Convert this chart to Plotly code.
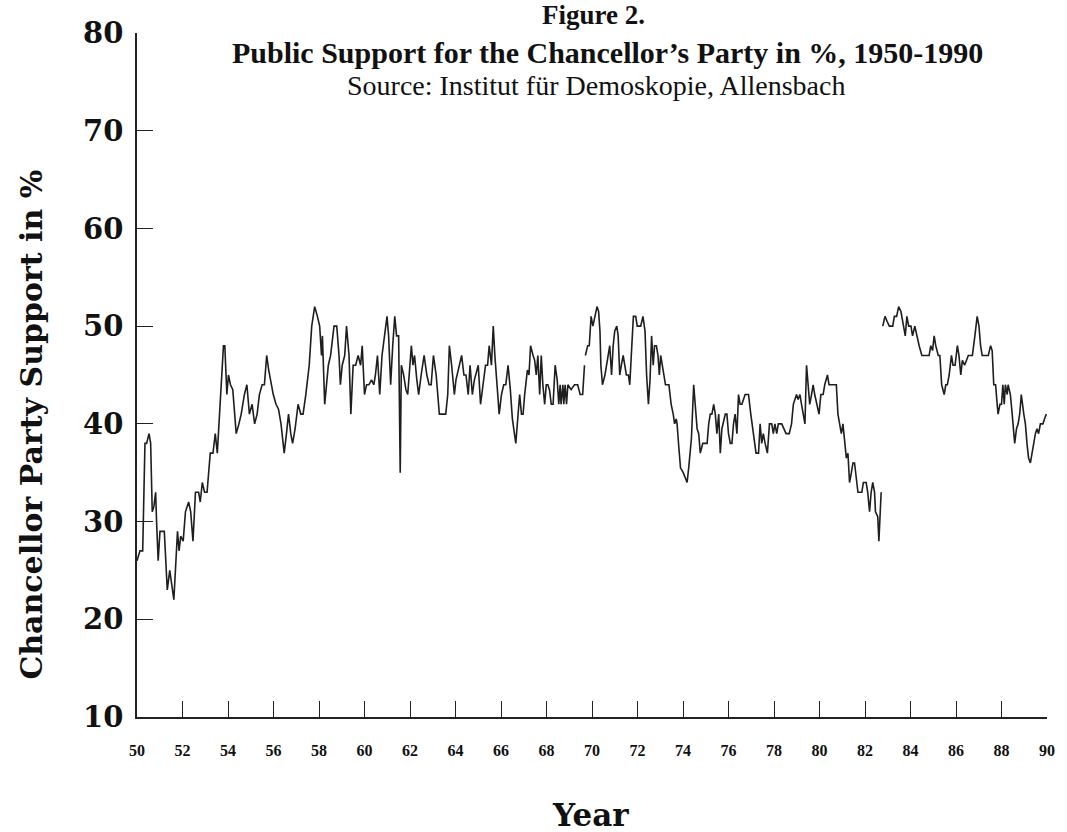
import plotly.graph_objects as go

# Public support for the chancellor's party (%), Allensbach polls.
# Three segments: CDU/CSU chancellors (1950-1969), SPD chancellors (1969-1982),
# CDU/CSU again after October 1982.
cdu1_years = [
    1950.00, 1950.13, 1950.25, 1950.35, 1950.42, 1950.53, 1950.60, 1950.67, 1950.74, 1950.82,
    1950.86, 1950.93, 1951.01, 1951.20, 1951.33, 1951.44, 1951.62, 1951.78, 1951.85, 1951.92,
    1952.03, 1952.13, 1952.27, 1952.36, 1952.46, 1952.57, 1952.71, 1952.78, 1952.87, 1952.97,
    1953.08, 1953.22, 1953.34, 1953.44, 1953.53, 1953.63, 1953.80, 1953.86, 1953.95, 1954.02,
    1954.11, 1954.21, 1954.36, 1954.48, 1954.58, 1954.72, 1954.83, 1954.94, 1955.06, 1955.17,
    1955.28, 1955.38, 1955.50, 1955.60, 1955.70, 1955.79, 1955.89, 1955.99, 1956.11, 1956.22,
    1956.33, 1956.47, 1956.57, 1956.66, 1956.76, 1956.84, 1956.95, 1957.08, 1957.20, 1957.30,
    1957.42, 1957.57, 1957.68, 1957.81, 1957.93, 1958.03, 1958.11, 1958.15, 1958.25, 1958.41,
    1958.51, 1958.66, 1958.78, 1958.88, 1958.94, 1959.02, 1959.13, 1959.21, 1959.32, 1959.40,
    1959.50, 1959.61, 1959.72, 1959.83, 1959.90, 1960.00, 1960.09, 1960.19, 1960.31, 1960.41,
    1960.48, 1960.57, 1960.67, 1960.77, 1960.88, 1960.99, 1961.06, 1961.15, 1961.24, 1961.33,
    1961.41, 1961.50, 1961.57, 1961.62, 1961.72, 1961.82, 1961.90, 1961.98, 1962.06, 1962.13,
    1962.20, 1962.30, 1962.38, 1962.49, 1962.62, 1962.74, 1962.84, 1962.93, 1963.03, 1963.15,
    1963.29, 1963.43, 1963.57, 1963.66, 1963.73, 1963.83, 1963.95, 1964.02, 1964.10, 1964.17,
    1964.27, 1964.37, 1964.46, 1964.56, 1964.64, 1964.74, 1964.83, 1964.93, 1965.00, 1965.10,
    1965.22, 1965.32, 1965.41, 1965.48, 1965.58, 1965.66, 1965.73, 1965.83, 1965.92, 1966.02,
    1966.12, 1966.21, 1966.31, 1966.41, 1966.50, 1966.65, 1966.75, 1966.82, 1966.90, 1966.97,
    1967.04, 1967.16, 1967.23, 1967.30, 1967.41, 1967.48, 1967.55, 1967.62, 1967.70, 1967.77,
    1967.84, 1967.92, 1967.99, 1968.06, 1968.13, 1968.21, 1968.29, 1968.38, 1968.47, 1968.54,
    1968.60, 1968.64, 1968.72, 1968.76, 1968.82, 1968.88, 1968.94, 1969.08, 1969.23, 1969.37,
    1969.48, 1969.59, 1969.67,
]
cdu1_support = [
    26, 27, 27, 38, 38, 39, 38, 31, 31.5, 33,
    30, 26, 29, 29, 23, 25, 22, 29, 27, 28.5,
    28, 31, 32, 31, 28, 33, 33, 32, 34, 33,
    33, 37, 37, 39, 37, 41, 48, 48, 43, 45,
    44, 43.5, 39, 40, 41, 43, 44, 41, 42, 40,
    41, 43, 44, 44, 47, 45.5, 44, 43, 42, 41.5,
    40, 37, 39, 41, 39, 38, 39.5, 42, 41, 41,
    43, 46, 50, 52, 51, 50, 47, 49, 42, 46,
    47, 50, 50, 47, 44, 46, 47, 50, 47, 41,
    46, 46, 47, 46, 48, 43, 44, 44, 44.5, 44,
    45, 47, 43, 47, 49, 51, 49, 44, 48, 51,
    49, 49, 35, 46, 45, 43.5, 43, 46, 48, 46,
    47, 44.5, 43, 45, 47, 45, 44, 44, 47, 45,
    41, 41, 41, 43, 48, 46, 43, 44.5, 45.5, 46,
    47, 45, 45, 43, 46, 43, 44.5, 45.5, 46, 42,
    44, 46, 46, 48, 46, 50, 47, 44, 41, 43,
    44, 44, 46, 43.5, 40.5, 38, 41, 43, 41, 41,
    43, 45.5, 45, 48, 47, 46.5, 45, 47, 43, 47,
    44, 42, 44, 44, 43.5, 42, 42, 46, 44.5, 42,
    44, 42, 44, 42, 44, 42, 44, 43.5, 44, 44,
    43, 43, 46,
]

spd_years = [
    1969.71, 1969.81, 1969.88, 1969.96, 1970.04, 1970.13, 1970.22, 1970.29, 1970.35, 1970.39,
    1970.46, 1970.57, 1970.68, 1970.78, 1970.86, 1970.93, 1971.00, 1971.09, 1971.15, 1971.22,
    1971.29, 1971.37, 1971.44, 1971.51, 1971.60, 1971.66, 1971.75, 1971.82, 1971.92, 1971.99,
    1972.14, 1972.24, 1972.33, 1972.40, 1972.48, 1972.55, 1972.62, 1972.69, 1972.75, 1972.83,
    1972.90, 1972.96, 1973.02, 1973.09, 1973.16, 1973.23, 1973.38, 1973.48, 1973.57, 1973.63,
    1973.70, 1973.74, 1973.82, 1973.89, 1974.01, 1974.11, 1974.18, 1974.25, 1974.37, 1974.47,
    1974.55, 1974.62, 1974.69, 1974.76, 1974.87, 1974.94, 1975.06, 1975.13, 1975.20, 1975.27,
    1975.35, 1975.42, 1975.49, 1975.57, 1975.64, 1975.71, 1975.86, 1975.93, 1976.00, 1976.08,
    1976.15, 1976.22, 1976.29, 1976.37, 1976.44, 1976.51, 1976.59, 1976.73, 1976.88, 1976.98,
    1977.10, 1977.21, 1977.32, 1977.39, 1977.46, 1977.53, 1977.61, 1977.71, 1977.80, 1977.90,
    1977.97, 1978.04, 1978.12, 1978.19, 1978.34, 1978.44, 1978.53, 1978.67, 1978.77, 1978.85,
    1978.92, 1978.99, 1979.06, 1979.14, 1979.21, 1979.28, 1979.36, 1979.43, 1979.50, 1979.57,
    1979.65, 1979.72, 1979.79, 1979.87, 1979.98, 1980.06, 1980.16, 1980.23, 1980.35, 1980.42,
    1980.52, 1980.74, 1980.81, 1980.89, 1980.96, 1981.03, 1981.10, 1981.18, 1981.25, 1981.32,
    1981.40, 1981.47, 1981.54, 1981.61, 1981.69, 1981.86, 1981.93, 1982.05, 1982.12, 1982.20,
    1982.27, 1982.34, 1982.42, 1982.46, 1982.56, 1982.61, 1982.66, 1982.71,
]
spd_support = [
    47, 48, 48, 51, 50, 51, 52, 51.5, 49.5, 46,
    44, 45, 46.5, 48, 45, 48, 49.5, 50, 49, 45,
    46, 47, 46, 45, 45, 44, 48, 51, 51, 50,
    50, 51, 49.5, 45, 42, 44.5, 49, 46, 48, 48,
    47, 45, 47, 46, 45, 44, 44, 42, 41, 40,
    40.5, 40, 37.5, 35.5, 35, 34.5, 34, 35.5, 38.5, 44,
    41, 39.5, 39, 37, 38, 38, 38, 40, 41, 41,
    42, 41, 39, 41, 37, 39.5, 41, 41, 39, 38,
    38, 40, 41, 39, 43, 42, 42, 43, 43, 41,
    39, 37, 37, 40, 38, 39, 38, 37, 40, 40,
    39, 40, 39, 40, 40, 39.5, 39, 39, 40, 42,
    42.5, 43, 42.5, 43, 42, 41, 40, 46, 44, 42,
    43, 44, 43, 42, 41, 43, 43, 44, 45, 44,
    44, 44, 41, 40, 39, 40, 38.5, 36.5, 37, 34,
    35, 36, 36, 34.5, 33, 33, 34, 34, 33, 31,
    33, 34, 33, 31, 30.5, 28, 31, 33,
]

cdu2_years = [
    1982.78, 1982.88, 1982.97, 1983.07, 1983.22, 1983.29, 1983.39, 1983.48, 1983.58, 1983.68,
    1983.77, 1983.84, 1983.92, 1984.02, 1984.09, 1984.19, 1984.27, 1984.38, 1984.50, 1984.68,
    1984.82, 1984.89, 1984.97, 1985.04, 1985.11, 1985.22, 1985.29, 1985.37, 1985.48, 1985.55,
    1985.62, 1985.70, 1985.80, 1985.87, 1985.96, 1986.06, 1986.13, 1986.21, 1986.28, 1986.38,
    1986.45, 1986.54, 1986.64, 1986.72, 1986.83, 1986.93, 1987.01, 1987.08, 1987.15, 1987.30,
    1987.42, 1987.52, 1987.59, 1987.66, 1987.74, 1987.81, 1987.85, 1987.93, 1988.00, 1988.06,
    1988.12, 1988.17, 1988.25, 1988.29, 1988.39, 1988.47, 1988.54, 1988.58, 1988.66, 1988.73,
    1988.80, 1988.87, 1988.98, 1989.05, 1989.12, 1989.19, 1989.27, 1989.34, 1989.41, 1989.49,
    1989.56, 1989.63, 1989.71, 1989.82, 1989.89, 1989.97,
]
cdu2_support = [
    50, 51, 50.5, 50, 50, 51, 51, 52, 51.5, 50,
    49, 51, 50, 50, 49, 50, 49, 48, 47, 47,
    47, 48, 47.5, 49, 48, 47, 47, 44, 43, 44,
    44, 45, 47, 46, 46, 48, 47, 45, 46.5, 46,
    46.5, 47, 47, 47, 49, 51, 50, 48, 47, 47,
    47, 48, 47.5, 44, 44, 42, 41, 42, 42, 44,
    42, 44, 43, 44, 43, 41, 39, 38, 39.5, 40,
    41, 43, 41, 40, 38, 36.5, 36, 37, 38, 39,
    39.5, 39, 40, 40, 40.5, 41,
]

year_ticks = list(range(1950, 1991, 2))
year_tick_text = [str(y)[2:] for y in year_ticks]
support_ticks = [10, 20, 30, 40, 50, 60, 70, 80]

W, H = 1067, 832
ML, MR, MT, MB = 137, 15, 33, 115
LINE = dict(color="#1e1e1e", width=1.6)

fig = go.Figure()
for xs, ys in [(cdu1_years, cdu1_support), (spd_years, spd_support), (cdu2_years, cdu2_support)]:
    fig.add_trace(go.Scatter(x=xs, y=ys, mode="lines", line=LINE, showlegend=False,
                             hoverinfo="x+y"))

fig.update_layout(
    width=W, height=H,
    margin=dict(l=ML, r=MR, t=MT, b=MB),
    paper_bgcolor="white", plot_bgcolor="white",
    font=dict(family="Liberation Serif", color="#111"),
    xaxis=dict(
        range=[1950, 1990], tickmode="array", tickvals=year_ticks, ticktext=year_tick_text,
        ticks="inside", ticklen=16, tickwidth=1.3, tickcolor="#222",
        showline=True, linecolor="#222", linewidth=1.5, mirror=False,
        showgrid=False, zeroline=False,
        tickfont=dict(family="Liberation Serif", size=16, color="#111", weight="bold"),
        ticklabelstandoff=18,
    ),
    yaxis=dict(
        range=[10, 80], tickmode="array", tickvals=support_ticks,
        ticks="inside", ticklen=16, tickwidth=1.3, tickcolor="#222",
        showline=True, linecolor="#222", linewidth=1.5, mirror=False,
        showgrid=False, zeroline=False,
        tickfont=dict(family="DejaVu Serif", size=29, color="#111", weight="bold"),
        ticklabelstandoff=6,
    ),
)


def page_note(text, px, py, size, family="Liberation Serif", angle=0):
    """Place a text block centred on a page pixel position."""
    return dict(
        text=text, xref="paper", yref="paper", showarrow=False,
        xanchor="center", yanchor="middle", textangle=angle,
        x=(px - ML) / (W - ML - MR), y=(H - py - MB) / (H - MT - MB),
        font=dict(family=family, size=size, color="#111"),
    )


fig.update_layout(annotations=[
    page_note("<b>Figure 2.</b>", 596, 15, 27),
    page_note("<b>Public Support for the Chancellor\u2019s Party in %, 1950-1990</b>", 610, 52, 30),
    page_note("Source: Institut f\u00fcr Demoskopie, Allensbach", 599, 86, 28),
    page_note("<b>Year</b>", 593, 815, 31, family="DejaVu Serif"),
    page_note("<b>Chancellor Party Support in %</b>", 30, 425, 30, family="DejaVu Serif", angle=-90),
])

fig.write_html("out.html")
